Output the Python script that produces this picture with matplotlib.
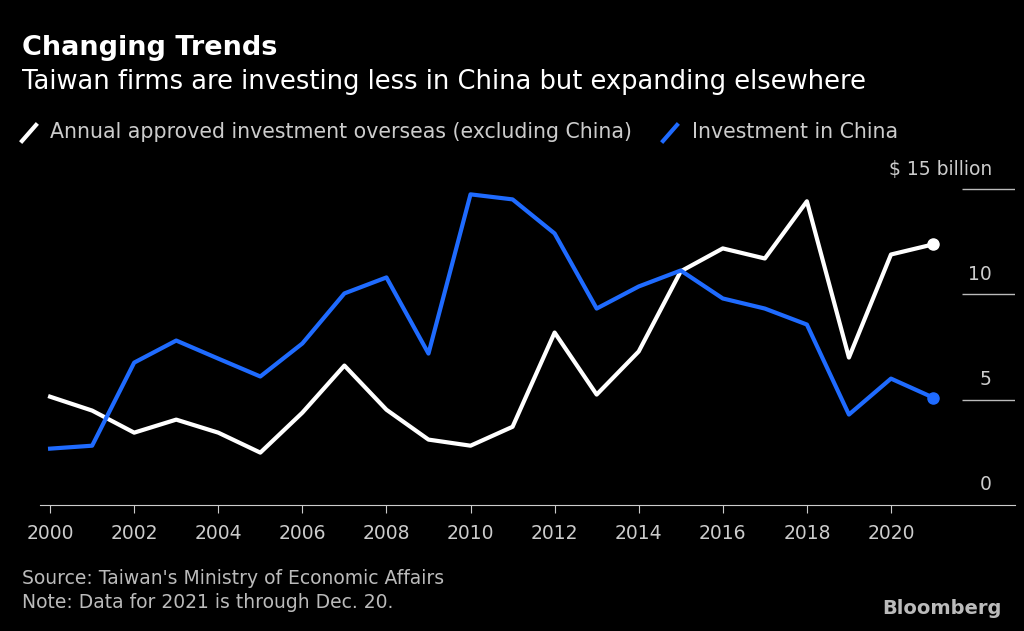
import matplotlib.pyplot as plt
from matplotlib.lines import Line2D

years = list(range(2000, 2022))
overseas = [5.14, 4.48, 3.43, 4.05, 3.43, 2.48, 4.38, 6.62, 4.52, 3.1, 2.81, 3.71,
            8.19, 5.24, 7.29, 11.1, 12.19, 11.71, 14.43, 7.0, 11.9, 12.38]
china = [2.67, 2.81, 6.76, 7.81, 6.95, 6.1, 7.67, 10.05, 10.81, 7.19, 14.76, 14.52,
         12.9, 9.33, 10.38, 11.14, 9.81, 9.33, 8.57, 4.29, 6.0, 5.1]
ytick_vals = [0, 5, 10, 15]
ytick_labels = ['0', '5', '10', '$ 15 billion']
xtick_vals = list(range(2000, 2021, 2))

plt.rcParams['font.family'] = ['DejaVu Sans']
fig = plt.figure(figsize=(10.24, 6.31), dpi=100, facecolor='black')
ax = fig.add_axes([40/1024, 0.2, 975/1024, 0.515], facecolor='black')

ax.plot(years, overseas, color='white', lw=3)
ax.plot(years, china, color='#1f6bff', lw=3)
ax.plot(years[-1], overseas[-1], 'o', color='white', ms=8)
ax.plot(years[-1], china[-1], 'o', color='#1f6bff', ms=8)

ax.set_xlim(1999.76, 2022.95)
ax.set_ylim(0, 15.45)
for v, lab in zip(ytick_vals, ytick_labels):
    if v > 0:
        ax.hlines(v, 2021.7, 2022.95, color='#bbbbbb', lw=1)
    ax.text(2022.4, v + 0.5, lab, color='#cccccc', ha='right', va='bottom', fontsize=13.5)

for s in ['top', 'right', 'left']:
    ax.spines[s].set_visible(False)
ax.spines['bottom'].set_color('#cccccc')
ax.set_yticks([])
ax.set_xticks(xtick_vals)
ax.tick_params(axis='x', colors='#cccccc', labelsize=13.5, length=6, pad=8)

fig.text(22/1024, 1-48/631, 'Changing Trends', color='white', fontsize=19.5, fontweight='bold', va='center')
fig.text(22/1024, 1-82/631, 'Taiwan firms are investing less in China but expanding elsewhere',
         color='white', fontsize=18.5, va='center')
fig.add_artist(Line2D([22/1024, 36/1024], [1-141/631, 1-125/631], color='white', lw=3))
fig.text(50/1024, 1-132/631, 'Annual approved investment overseas (excluding China)',
         color='#cccccc', fontsize=14.8, va='center')
fig.add_artist(Line2D([663/1024, 677/1024], [1-141/631, 1-125/631], color='#1f6bff', lw=3))
fig.text(692/1024, 1-132/631, 'Investment in China', color='#cccccc', fontsize=14.8, va='center')
fig.text(22/1024, 1-578/631, "Source: Taiwan's Ministry of Economic Affairs", color='#bbbbbb', fontsize=13.5, va='center')
fig.text(22/1024, 1-603/631, 'Note: Data for 2021 is through Dec. 20.', color='#bbbbbb', fontsize=13.5, va='center')
fig.text(1002/1024, 1-609/631, 'Bloomberg', color='#bbbbbb', fontsize=14, fontweight='bold', ha='right', va='center')

fig.savefig('out.png', dpi=100, facecolor='black')
